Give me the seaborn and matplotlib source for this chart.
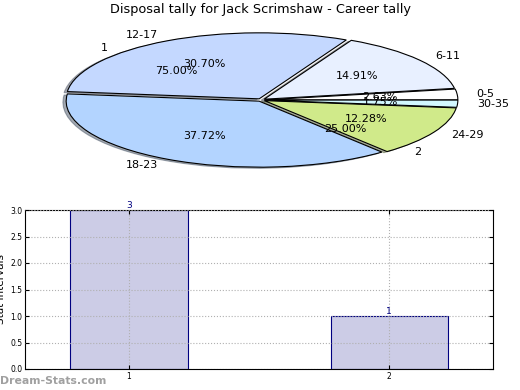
import matplotlib
matplotlib.use("Agg")
import matplotlib.pyplot as plt
import seaborn as sns
import pandas as pd

sns.set_style("white")
plt.rcParams.update({
    "font.family": ["DejaVu Sans"],
    "text.color": "black",
    "axes.labelcolor": "black",
    "xtick.color": "black",
    "ytick.color": "black",
})

# career tally by disposal range
age_groups = ["0-5", "6-11", "12-17", "18-23", "24-29", "30-35"]
tally_counts = [3, 17, 35, 43, 14, 2]
tally_colors = ["#ffffff", "#e8f0ff", "#c4d8ff", "#b3d4ff", "#d0ea8a", "#d2f8ff"]

# frequency of stat intervals
freq_labels = ["1", "2"]
freq_counts = [3, 1]

fig = plt.figure(figsize=(5.2, 3.9), dpi=100)

# ── pie (stretched, old-style) ─────────────────────────────
cx, cy, rx, ry = 261, 100, 193, 66
top_px, bot_px = 20, 185
ax_pie = fig.add_axes([0, 1 - bot_px / 390, 1, (bot_px - top_px) / 390])

ax_pie.pie(freq_counts, labels=freq_labels, autopct="%.2f%%", explode=[0.02, 0.02],
           colors=["none", "none"], wedgeprops={"linewidth": 0},
           textprops={"fontsize": 8}, labeldistance=1.1, pctdistance=0.6)
ax_pie.pie(tally_counts, labels=age_groups, autopct="%.2f%%", colors=tally_colors,
           explode=[0.02] * len(tally_counts),
           shadow={"ox": -0.012, "oy": -0.012, "shade": 0.6},
           wedgeprops={"edgecolor": "black", "linewidth": 0.8},
           textprops={"fontsize": 8}, labeldistance=1.1, pctdistance=0.6)
ax_pie.set_aspect("auto")
ax_pie.set_xlim(-cx / rx, (520 - cx) / rx)
ax_pie.set_ylim(-(bot_px - cy) / ry, (cy - top_px) / ry)
ax_pie.axis("off")
fig.text(0.5, 1 - 10 / 390, "Disposal tally for Jack Scrimshaw - Career tally",
         ha="center", va="center", fontsize=9.3)

# ── frequency bars ─────────────────────────────────────────
ax = fig.add_axes([25 / 520, 1 - 369 / 390, 468 / 520, 159 / 390])
df = pd.DataFrame({"Frequency": freq_labels, "count": freq_counts})
sns.barplot(data=df, x="Frequency", y="count", ax=ax, color="#ccccE6", saturation=1,
            width=0.45, edgecolor="#000080", linewidth=0.8)
for i, v in enumerate(freq_counts):
    ax.text(i, v, str(v), ha="center", va="bottom", fontsize=6.5, color="#000080")
ax.set_xlim(-0.4, 1.4)
ax.set_ylim(0, 3)
ax.set_yticks([0, 0.5, 1, 1.5, 2, 2.5, 3])
ax.set_yticklabels(["0.0", "0.5", "1.0", "1.5", "2.0", "2.5", "3.0"])
ax.tick_params(axis="both", labelsize=5.5, direction="in", length=3,
               left=True, right=True, bottom=True, top=True, pad=2)
ax.grid(True, color="#b0b0b0", linestyle=":", linewidth=0.8)
ax.set_axisbelow(False)
for s in ax.spines.values():
    s.set_color("black")
    s.set_linewidth(0.8)
ax.set_xlabel("Frequency", fontsize=7.5, labelpad=8)
ax.set_ylabel("Stat Intervals", fontsize=7.5, labelpad=3)

fig.text(0.0, 1 - 381 / 390, "Dream-Stats.com", ha="left", va="center",
         fontsize=7.8, color="#a0a0a0", fontweight="semibold")

fig.savefig("out.png", dpi=100, facecolor="white")
